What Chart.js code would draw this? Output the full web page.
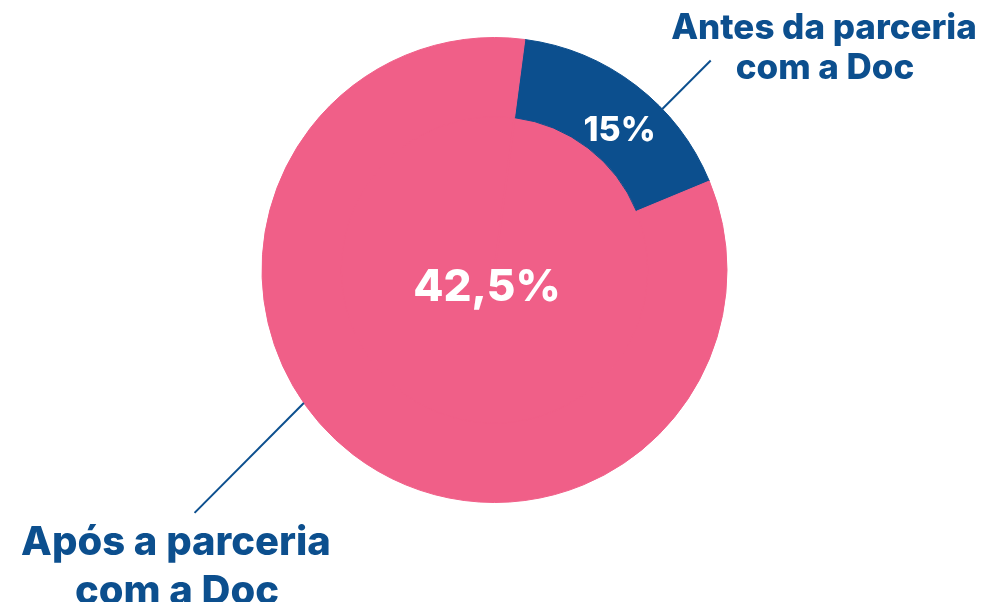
<!DOCTYPE html>
<html>
<head>
<meta charset="utf-8">
<script src="https://cdn.jsdelivr.net/npm/chart.js@4.4.1/dist/chart.umd.min.js"></script>
<style>
    html, body { margin: 0; padding: 0; background: #fff; }
    #wrap { width: 982px; height: 602px; }
</style>
</head>
<body>
<div id="wrap"><canvas id="graficoPizza"></canvas></div>
<script>
// dados
const categorias = ["Antes da parceria com a Doc", "Após a parceria com a Doc"];
const rotulos = [["Antes da parceria", "com a Doc"], ["Após a parceria", "com a Doc"]];
const valores = [15, 42.5];
const textoValores = ["15%", "42,5%"];
// fatia do anel externo como desenhada (graus de 360)
const anelExterno = [60, 300];
const miolo = [1];

const azul = "#0C4F8E";
const rosa = "#F05F88";

const rotulosPlugin = {
    id: "rotulos",
    afterDraw(chart) {
        const ctx = chart.ctx;
        const arc = chart.getDatasetMeta(0).data[0];
        const cx = arc.x, cy = arc.y, r = arc.outerRadius;
        const ponto = (graus, fator) => {
            const a = (graus - 90) * Math.PI / 180;
            return [cx + Math.cos(a) * r * fator, cy + Math.sin(a) * r * fator];
        };

        ctx.save();
        // linhas de chamada
        ctx.strokeStyle = azul;
        ctx.lineWidth = 2;
        [[[46.2, 1.0], [45.9, 1.295]], [[235.1, 1.0], [231, 1.66]]].forEach(function (l) {
            const a = ponto(l[0][0], l[0][1]);
            const b = ponto(l[1][0], l[1][1]);
            ctx.beginPath();
            ctx.moveTo(a[0], a[1]);
            ctx.lineTo(b[0], b[1]);
            ctx.stroke();
        });

        // valores dentro das fatias
        ctx.fillStyle = "#fff";
        ctx.textAlign = "center";
        ctx.textBaseline = "middle";
        ctx.font = "800 34px Inter";
        const p15 = ponto(42.3, 0.812);
        ctx.fillText(textoValores[0], p15[0] - 2, p15[1]);
        ctx.font = "800 44px Inter";
        ctx.fillText(textoValores[1], cx - 7.5, cy + 18);

        // rótulos das categorias
        ctx.fillStyle = azul;
        ctx.textBaseline = "alphabetic";
        ctx.font = "800 35px Inter";
        ctx.fillText(rotulos[0][0], 824, 39);
        ctx.fillText(rotulos[0][1], 825, 79);
        ctx.font = "800 40px Inter";
        ctx.fillText(rotulos[1][0], 176, 555);
        ctx.fillText(rotulos[1][1], 177, 604);
        ctx.restore();
    }
};

new Chart(document.getElementById("graficoPizza").getContext("2d"), {
    type: "pie",
    data: {
        labels: categorias,
        datasets: [
            {
                label: "Anel",
                data: anelExterno,
                backgroundColor: [azul, rosa],
                borderColor: [azul, rosa],
                borderWidth: 1,
                weight: 79,
            },
            {
                label: "Miolo",
                data: miolo,
                backgroundColor: [rosa],
                borderColor: [rosa],
                borderWidth: 2,
                weight: 154,
            },
        ],
    },
    options: {
        responsive: true,
        maintainAspectRatio: false,
        animation: false,
        rotation: 7.5,
        layout: { padding: { left: 7, right: 0, top: 37, bottom: 99 } },
        plugins: {
            legend: { display: false },
            tooltip: { enabled: false },
        },
    },
    plugins: [rotulosPlugin],
});
</script>
</body>
</html>
